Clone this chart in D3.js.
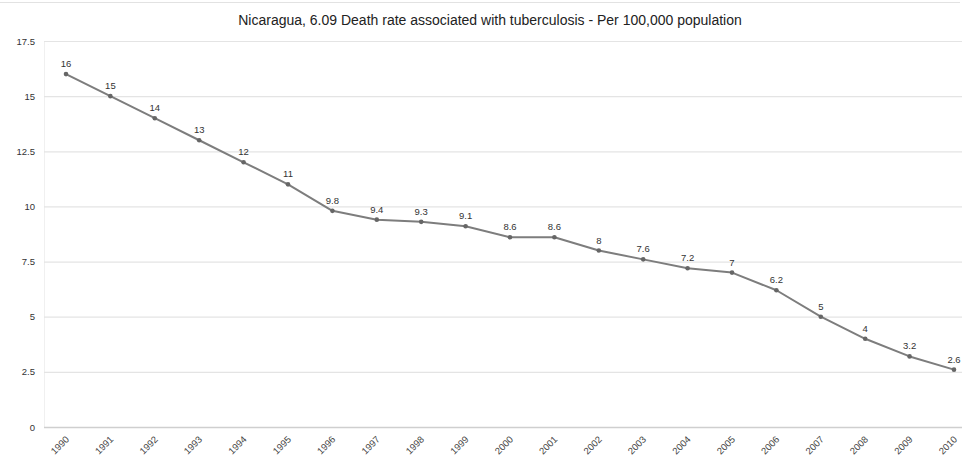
<!DOCTYPE html>
<html>
<head>
<meta charset="utf-8">
<script src="https://cdn.jsdelivr.net/npm/d3@7"></script>
<style>
  html, body { margin: 0; padding: 0; background: #fff; }
  svg { display: block; font-family: Arial, "Liberation Sans", sans-serif; }
</style>
</head>
<body>
<svg id="chart" width="967" height="461"></svg>
<script>
// Death rate associated with tuberculosis, Nicaragua (per 100,000 population)
const years = [1990, 1991, 1992, 1993, 1994, 1995, 1996, 1997, 1998, 1999, 2000,
               2001, 2002, 2003, 2004, 2005, 2006, 2007, 2008, 2009, 2010];
const rates = [16, 15, 14, 13, 12, 11, 9.8, 9.4, 9.3, 9.1, 8.6,
               8.6, 8, 7.6, 7.2, 7, 6.2, 5, 4, 3.2, 2.6];
const yTicks = [0, 2.5, 5, 7.5, 10, 12.5, 15, 17.5];
const title = "Nicaragua, 6.09 Death rate associated with tuberculosis - Per 100,000 population";

const svg = d3.select("#chart");
const plot = { left: 44, right: 962, top: 41, bottom: 427 };

const x = d3.scaleLinear().domain([1990, 2010]).range([66, 954]);
const y = d3.scaleLinear().domain([0, 17.5]).range([plot.bottom, plot.top]);

// thin rule along the top of the frame
svg.append("line")
  .attr("x1", 0).attr("x2", 960).attr("y1", 2.5).attr("y2", 2.5)
  .attr("stroke", "#e2e2e2").attr("stroke-width", 1);

// title
svg.append("text")
  .attr("x", 490).attr("y", 25)
  .attr("text-anchor", "middle")
  .attr("font-size", 14)
  .attr("fill", "#222")
  .text(title);

// left edge of plot area
svg.append("line")
  .attr("x1", plot.left + 0.5).attr("x2", plot.left + 0.5)
  .attr("y1", plot.top).attr("y2", plot.bottom)
  .attr("stroke", "#f0f0f0");

// horizontal gridlines via a y axis
const yAxis = d3.axisLeft(y)
  .tickValues(yTicks)
  .tickSize(-(plot.right - plot.left))
  .tickPadding(9)
  .tickFormat(d => String(d));

const gy = svg.append("g")
  .attr("transform", `translate(${plot.left},0)`)
  .call(yAxis);
gy.select(".domain").remove();
gy.selectAll(".tick line")
  .attr("stroke", d => d === 0 ? "#cfcfcf" : "#e4e4e4")
  .attr("stroke-width", d => d === 0 ? 1.5 : 1.2);
gy.selectAll(".tick text")
  .attr("font-size", 9.5)
  .attr("fill", "#333");

// x axis labels, rotated
const xAxis = d3.axisBottom(x)
  .tickValues(years)
  .tickSize(0)
  .tickFormat(d => String(d));
const gx = svg.append("g")
  .attr("transform", `translate(0,${plot.bottom})`)
  .call(xAxis);
gx.select(".domain").remove();
gx.selectAll(".tick text")
  .attr("font-size", 9.5)
  .attr("fill", "#444")
  .attr("text-anchor", "end")
  .attr("dy", 0)
  .attr("transform", "translate(1,11) rotate(-45)");

// series line
const line = d3.line()
  .x((d, i) => x(years[i]))
  .y(d => y(d));

svg.append("path")
  .datum(rates)
  .attr("fill", "none")
  .attr("stroke", "#7d7d7d")
  .attr("stroke-width", 2)
  .attr("stroke-linejoin", "round")
  .attr("d", line);

// point markers
svg.selectAll("circle.pt")
  .data(rates)
  .join("circle")
  .attr("class", "pt")
  .attr("cx", (d, i) => x(years[i]))
  .attr("cy", d => y(d))
  .attr("r", 2.3)
  .attr("fill", "#666");

// value labels
svg.selectAll("text.val")
  .data(rates)
  .join("text")
  .attr("class", "val")
  .attr("x", (d, i) => x(years[i]))
  .attr("y", d => y(d) - 7)
  .attr("text-anchor", "middle")
  .attr("font-size", 9.5)
  .attr("fill", "#333")
  .text(d => String(d));
</script>
</body>
</html>
